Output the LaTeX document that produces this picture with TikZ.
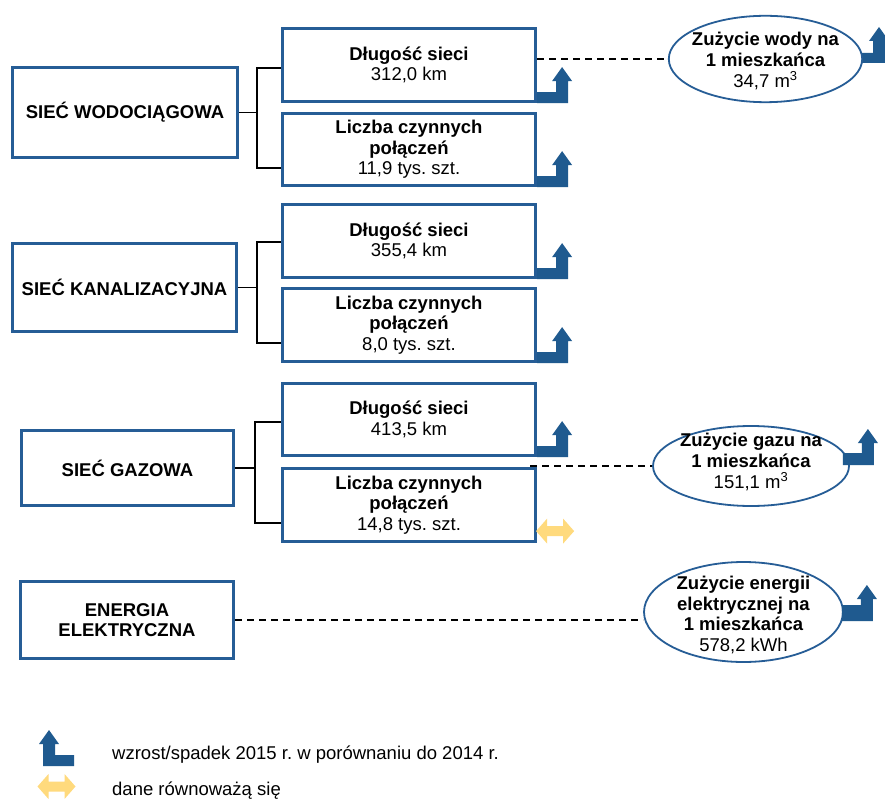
\documentclass[tikz,border=0pt]{standalone}
\usepackage{fontspec}
\setmainfont{Liberation Sans}
\usetikzlibrary{shapes.geometric,calc}
\definecolor{bblue}{RGB}{38,93,150}
\definecolor{iblue}{RGB}{31,90,143}
\definecolor{yel}{RGB}{255,218,125}
\begin{document}
\frenchspacing
\begin{tikzpicture}[x=1pt,y=-1pt,
  every node/.style={font=\fontsize{18.5}{20.7}\selectfont\frenchspacing},
  box/.style={draw=bblue, line width=3.2pt, fill=white, align=center, inner sep=0pt},
  elli/.style={draw=bblue, line width=1.8pt, ellipse, fill=white, inner sep=0pt},
  br/.style={line width=1.6pt, black},
  dsh/.style={line width=1.5pt, dash pattern=on 7pt off 5pt},
  etext/.style={align=center},
  pics/upicon/.style={code={\fill[iblue] (0,0) -- (31,0) -- (31,-22) -- (35,-22) -- (25,-36) -- (15,-22) -- (19,-22) -- (19,-#1) -- (0,-#1) -- cycle;}},
  pics/eqicon/.style={code={\fill[yel] (-19,0) -- (-8,-12.5) -- (-8,-5) -- (8,-5) -- (8,-12.5) -- (19,0) -- (8,12.5) -- (8,5) -- (-8,5) -- (-8,12.5) -- cycle;}}
]
\useasboundingbox (0,0) rectangle (885,799);
\clip (0,0) rectangle (885,799);
\fill[white] (0,0) rectangle (885,799);

% left boxes
\node[box, minimum width=225, minimum height=90] (wod) at (125,112.5) {\textbf{SIEĆ WODOCIĄGOWA}};
\node[box, minimum width=224, minimum height=88] (kan) at (124.5,287.5) {\textbf{SIEĆ KANALIZACYJNA}};
\node[box, minimum width=212, minimum height=75] (gaz) at (127.5,468) {\textbf{SIEĆ GAZOWA}};
\node[box, minimum width=213, minimum height=77] (ene) at (127,620) {\textbf{ENERGIA}\\\textbf{ELEKTRYCZNA}};

% middle boxes
\node[box, minimum width=253, minimum height=73] (d1) at (409,65) {\textbf{Długość sieci}\\312,0 km};
\node[box, minimum width=253, minimum height=72] (l1) at (409,149.5) {\textbf{Liczba czynnych}\\\textbf{połączeń}\\11,9 tys. szt.};
\node[box, minimum width=253, minimum height=73] (d2) at (409,241) {\textbf{Długość sieci}\\355,4 km};
\node[box, minimum width=253, minimum height=73] (l2) at (409,325) {\textbf{Liczba czynnych}\\\textbf{połączeń}\\8,0 tys. szt.};
\node[box, minimum width=253, minimum height=72] (d3) at (409,419.5) {\textbf{Długość sieci}\\413,5 km};
\node[box, minimum width=253, minimum height=73] (l3) at (409,505) {\textbf{Liczba czynnych}\\\textbf{połączeń}\\14,8 tys. szt.};

% brackets
\draw[br] ($(d1.west)+(0,3)$) -- ++(-24,0) coordinate (b1) |- ($(l1.west)+(0,18.5)$);
\draw[br] (wod.east) -- (wod.east -| b1);
\draw[br] ($(d2.west)+(0,1)$) -- ++(-24,0) coordinate (b2) |- ($(l2.west)+(0,18)$);
\draw[br] (kan.east) -- (kan.east -| b2);
\draw[br] ($(d3.west)+(0,2.5)$) -- ++(-26,0) coordinate (b3) |- ($(l3.west)+(0,18)$);
\draw[br] (gaz.east) -- (gaz.east -| b3);

% icons next to boxes
\pic at (d1.south east) {upicon=11};
\pic at (l1.south east) {upicon=11};
\pic at (d2.south east) {upicon=11};
\pic at (l2.south east) {upicon=11};
\pic at (d3.south east) {upicon=11};
\pic at ($(l3.south east)+(18,-12)$) {eqicon};

% water icon (behind ellipse)
\pic at (854,63) {upicon=10};

% ellipses
\node[elli, minimum width=193.4, minimum height=86.4,
  label={[etext, yshift=-2pt]center:{\textbf{Zużycie wody na}\\\textbf{1 mieszkańca}\\34,7 m\textsuperscript{3}}}] (wat) at (765.5,59) {};
\node[elli, minimum width=196, minimum height=80,
  label={[etext, yshift=4pt]center:{\textbf{Zużycie gazu na}\\\textbf{1 mieszkańca}\\151,1 m\textsuperscript{3}}}] (gas) at (751,466) {};
\node[elli, minimum width=199, minimum height=100,
  label={[etext, yshift=-3pt]center:{\textbf{Zużycie energii}\\\textbf{elektrycznej na}\\\textbf{1 mieszkańca}\\578,2 kWh}}] (ele) at (743.5,612) {};

\pic at ($(gas.east)+(-7,-1)$) {upicon=12};
\pic at ($(ele.east)+(-2,9)$) {upicon=16};

% dashed connectors
\draw[dsh] (d1.east |- wat.west) -- (wat.west);
\draw[dsh] ($(l3.east |- gas.west)+(-7,0)$) -- (gas.west);
\draw[dsh] (ene.east) -- (ene.east -| ele.west);

% legend
\pic[xscale=-1] at (74,766) {upicon=11};
\node[anchor=base west, inner sep=0pt] (lg1) at (112,759) {wzrost/spadek 2015 r. w porównaniu do 2014 r.};
\pic at (56.5,786.5) {eqicon};
\node[anchor=base west, inner sep=0pt] (lg2) at (112,795) {dane równoważą się};
\end{tikzpicture}
\end{document}
